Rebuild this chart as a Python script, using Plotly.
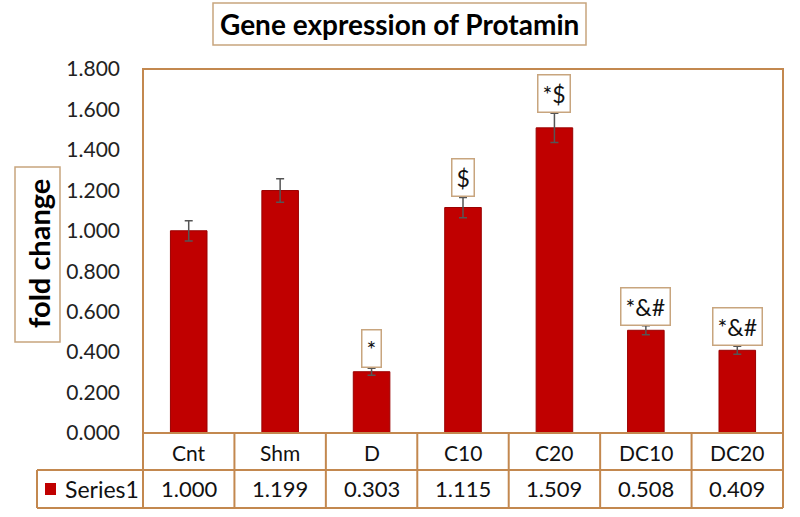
import plotly.graph_objects as go

categories = ["Cnt", "Shm", "D", "C10", "C20", "DC10", "DC20"]
values = [1.000, 1.199, 0.303, 1.115, 1.509, 0.508, 0.409]
errors = [0.05, 0.058, 0.017, 0.05, 0.072, 0.022, 0.02]
sig_labels = ["", "", "*", "$", "*$", "*&#", "*&#"]
value_labels = ["1.000", "1.199", "0.303", "1.115", "1.509", "0.508", "0.409"]
series_name = "Series1"
title_text = "Gene expression of Protamin"
ytitle_text = "fold change"

W, H = 800, 517
L, R, T, B = 143, 17, 69, 84
PW = W - L - R
PH = H - T - B

def py(p):
    return (H - B - p) / PH

def px(x):
    return (x - L) / PW

BORDER = "#c3884f"
BOX = "#c8a57e"
BAR = "#c00000"
FONT = "Lato"

fig = go.Figure()
fig.add_trace(go.Bar(
    x=categories, y=values,
    marker=dict(color=BAR, line=dict(color="#9a0000", width=1)),
    width=0.4,
    error_y=dict(type="data", array=errors, visible=True, color="#555555",
                 thickness=1.5, width=4),
    name=series_name,
    showlegend=False,
))

ann = []
for c, v, e, s in zip(categories, values, errors, sig_labels):
    if s:
        ann.append(dict(x=c, y=v + e, xref="x", yref="y", text=s, showarrow=False,
                        yanchor="bottom", yshift=0,
                        font=dict(family=FONT, size=23, color="#111"),
                        bgcolor="white", bordercolor=BOX, borderwidth=1.5,
                        borderpad=4))

y_cat = py(452)
y_val = py(489)
for c, vl in zip(categories, value_labels):
    ann.append(dict(x=c, y=y_cat, xref="x", yref="paper", text=c, showarrow=False,
                    font=dict(family=FONT, size=21, color="#111"), yanchor="middle"))
    ann.append(dict(x=c, y=y_val, xref="x", yref="paper", text=vl, showarrow=False,
                    font=dict(family=FONT, size=22, color="#111"), yanchor="middle"))
ann.append(dict(x=px(63), y=y_val, xref="paper", yref="paper",
                text=series_name, showarrow=False, xanchor="left", yanchor="middle",
                font=dict(family=FONT, size=23, color="#111")))

ann.append(dict(x=px(399.5), y=py(24), xref="paper", yref="paper",
                text="<b>" + title_text + "</b>", showarrow=False,
                xanchor="center", yanchor="middle",
                font=dict(family=FONT, size=28, color="#000")))
ann.append(dict(x=px(38), y=py(254), xref="paper", yref="paper",
                text="<b>" + ytitle_text + "</b>", showarrow=False, textangle=-90,
                xanchor="center", yanchor="middle",
                font=dict(family=FONT, size=29, color="#000")))

shapes = []
line = dict(color=BORDER, width=2)
shapes.append(dict(type="rect", xref="paper", yref="paper", x0=px(213), x1=px(586),
                   y0=py(45), y1=py(3), line=dict(color=BOX, width=1.5),
                   fillcolor="white", layer="below"))
shapes.append(dict(type="rect", xref="paper", yref="paper", x0=px(15), x1=px(60),
                   y0=py(342), y1=py(167), line=dict(color=BOX, width=1.5),
                   fillcolor="white", layer="below"))
shapes.append(dict(type="rect", xref="paper", yref="paper", x0=px(45), x1=px(56),
                   y0=py(495), y1=py(483), line=dict(width=0),
                   fillcolor=BAR))
shapes.append(dict(type="rect", xref="paper", yref="paper", x0=0, x1=1, y0=0, y1=1,
                   line=line, layer="above"))
y470 = py(470)
y508 = py(508)
x37 = px(37)
for yy in (y470, y508):
    shapes.append(dict(type="line", xref="paper", yref="paper", x0=x37, x1=1,
                       y0=yy, y1=yy, line=line))
shapes.append(dict(type="line", xref="paper", yref="paper", x0=x37, x1=x37,
                   y0=y470, y1=y508, line=line))
n = len(categories)
for i in range(n + 1):
    xx = i / n
    shapes.append(dict(type="line", xref="paper", yref="paper", x0=xx, x1=xx,
                       y0=0, y1=y508, line=line))

fig.update_layout(
    width=W, height=H,
    margin=dict(l=L, r=R, t=T, b=B, pad=0),
    paper_bgcolor="white", plot_bgcolor="white",
    xaxis=dict(range=[-0.5, n - 0.5], showticklabels=False, showgrid=False,
               zeroline=False, showline=False, ticks=""),
    yaxis=dict(range=[0, 1.8], tickvals=[i * 0.2 for i in range(10)],
               tickformat=".3f", showgrid=False, zeroline=False, showline=False,
               ticks="", ticklabelstandoff=22,
               tickfont=dict(family=FONT, size=21, color="#222")),
    annotations=ann,
    shapes=shapes,
    bargap=0.6,
)

fig.write_html("out.html")
